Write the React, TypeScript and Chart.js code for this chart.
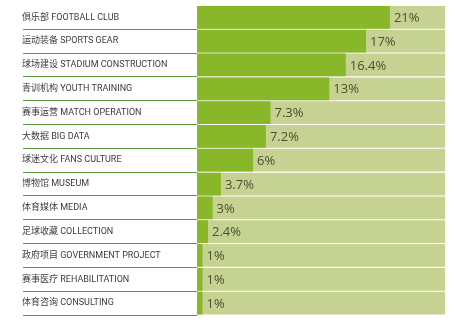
import React, { useEffect, useRef } from "react";
import { Chart, registerables } from "chart.js";

Chart.register(...registerables);

const categories = [
  "俱乐部 FOOTBALL CLUB",
  "运动装备 SPORTS GEAR",
  "球场建设 STADIUM CONSTRUCTION",
  "青训机构 YOUTH TRAINING",
  "赛事运营 MATCH OPERATION",
  "大数据 BIG DATA",
  "球迷文化 FANS CULTURE",
  "博物馆 MUSEUM",
  "体育媒体 MEDIA",
  "足球收藏 COLLECTION",
  "政府项目 GOVERNMENT PROJECT",
  "赛事医疗 REHABILITATION",
  "体育咨询 CONSULTING",
];

// printed share labels
const shareLabels = ["21%", "17%", "16.4%", "13%", "7.3%", "7.2%", "6%", "3.7%", "3%", "2.4%", "1%", "1%", "1%"];

// bar lengths as drawn in the picture (percent units)
const barLengths = [21, 18.4, 16.2, 14.4, 8.0, 7.5, 6.1, 2.6, 1.7, 1.2, 0.6, 0.6, 0.6];

const axisMax = 27;
const trackValues = categories.map(() => axisMax);

export default function App() {
  const ref = useRef<HTMLCanvasElement | null>(null);

  useEffect(() => {
    if (!ref.current) return;
    const valueLabels = {
      id: "valueLabels",
      afterDatasetsDraw(chart: any) {
        const ctx = chart.ctx;
        const meta = chart.getDatasetMeta(1);
        ctx.save();
        ctx.font = "13px 'Open Sans', sans-serif";
        ctx.fillStyle = "#4b5035";
        ctx.textAlign = "left";
        ctx.textBaseline = "middle";
        meta.data.forEach((el: any, i: number) => {
          ctx.fillText(shareLabels[i], el.x + 4, el.y + 1);
        });
        ctx.restore();
      },
    };

    const chart = new Chart(ref.current, {
      type: "bar",
      data: {
        labels: categories,
        datasets: [
          {
            label: "track",
            data: trackValues,
            backgroundColor: "#c5d291",
            grouped: false,
            order: 2,
            barPercentage: 0.955,
            categoryPercentage: 1,
          },
          {
            label: "share",
            data: barLengths,
            backgroundColor: "#89b72a",
            grouped: false,
            order: 1,
            barPercentage: 0.955,
            categoryPercentage: 1,
          },
        ],
      },
      options: {
        indexAxis: "y",
        responsive: false,
        animation: false,
        events: [],
        layout: { padding: { left: 22, right: 10, top: 4, bottom: 13 } },
        plugins: { legend: { display: false }, tooltip: { enabled: false } },
        scales: {
          x: { display: false, min: 0, max: axisMax },
          y: {
            afterFit(scale: any) {
              scale.width = 175;
            },
            border: { display: false },
            grid: {
              offset: true,
              drawOnChartArea: false,
              drawTicks: true,
              tickLength: 174,
              tickWidth: 1,
              tickColor: (c: any) => (c.index === 0 ? "rgba(0,0,0,0)" : "#5d9a3c"),
            },
            ticks: {
              crossAlign: "far",
              color: "#3c3c3c",
              font: { family: "Roboto, 'Noto Sans CJK SC', sans-serif", size: 9 },
              padding: 0,
            },
          },
        },
      },
      plugins: [valueLabels],
    });
    return () => chart.destroy();
  }, []);

  return (
    <div style={{ position: "absolute", left: 0, top: 0, width: 455, height: 328, background: "#fff" }}>
      <canvas ref={ref} width={455} height={328} />
    </div>
  );
}
